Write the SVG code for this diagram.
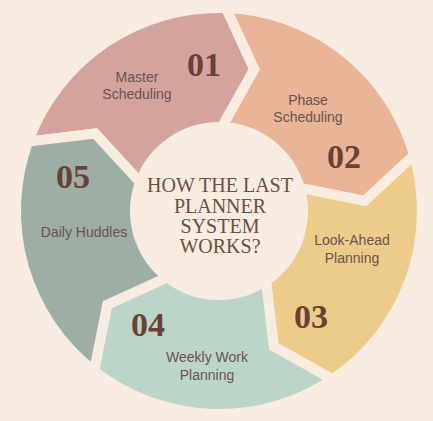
<svg xmlns="http://www.w3.org/2000/svg" width="433" height="421" viewBox="0 0 433 421">
<style>
.seg path{stroke:#F8EBDF;stroke-width:10;stroke-linejoin:miter;stroke-miterlimit:10}
.num{font-family:"Liberation Serif","Times New Roman",serif;font-weight:bold;font-size:34px;fill:#6A4136;text-anchor:middle}
.lbl{font-family:"Liberation Sans",Arial,sans-serif;font-size:14px;fill:#6B5350;text-anchor:middle}
.title{font-family:"Liberation Serif","Times New Roman",serif;font-size:20px;fill:#6A5045;text-anchor:middle}
</style>
<rect width="433" height="421" fill="#F8EBDF"/>
<g id="seg1" class="seg">
<path d="M28.2,141.6 A203,203 0 0 1 226.1,8.1 L254.3,69.3 L221.9,127 A84,84 0 0 0 140.1,182.3 L95.2,133.6 Z" fill="#D4A39D"/>
<text class="lbl" x="137" y="82">Master</text>
<text class="lbl" x="137" y="99">Scheduling</text>
<text class="num" x="204" y="76">01</text>
</g>
<g id="seg2" class="seg">
<path d="M226.1,8.1 A203,203 0 0 1 414.1,155.1 L364.7,200.8 L299.7,187.8 A84,84 0 0 0 221.9,127 L254.3,69.3 Z" fill="#E9B498"/>
<text class="lbl" x="308" y="105">Phase</text>
<text class="lbl" x="308" y="122">Scheduling</text>
<text class="num" x="344" y="168">02</text>
</g>
<g id="seg3" class="seg">
<path d="M414.1,155.1 A203,203 0 0 1 332.5,379.3 L273.7,346.4 L266,280.6 A84,84 0 0 0 299.7,187.8 L364.7,200.8 Z" fill="#EDCC8A"/>
<text class="lbl" x="352" y="245">Look-Ahead</text>
<text class="lbl" x="352" y="263">Planning</text>
<text class="num" x="311" y="328">03</text>
</g>
<g id="seg4" class="seg">
<path d="M332.5,379.3 A203,203 0 0 1 94,371 L107.2,304.8 L167.3,277.2 A84,84 0 0 0 266,280.6 L273.7,346.4 Z" fill="#BCD5C9"/>
<text class="lbl" x="207" y="362">Weekly Work</text>
<text class="lbl" x="207" y="380">Planning</text>
<text class="num" x="148" y="336">04</text>
</g>
<g id="seg5" class="seg">
<path d="M94,371 A203,203 0 0 1 28.2,141.6 L95.2,133.6 L140.1,182.3 A84,84 0 0 0 167.3,277.2 L107.2,304.8 Z" fill="#9DAEA5"/>
<text class="lbl" x="84" y="237">Daily Huddles</text>
<text class="num" x="73" y="188">05</text>
</g>
<g id="center">
<text class="title" x="220" y="192">HOW THE LAST</text>
<text class="title" x="220" y="213">PLANNER</text>
<text class="title" x="220" y="233">SYSTEM</text>
<text class="title" x="220" y="253">WORKS?</text>
</g>
<g id="connectors"/>
</svg>
